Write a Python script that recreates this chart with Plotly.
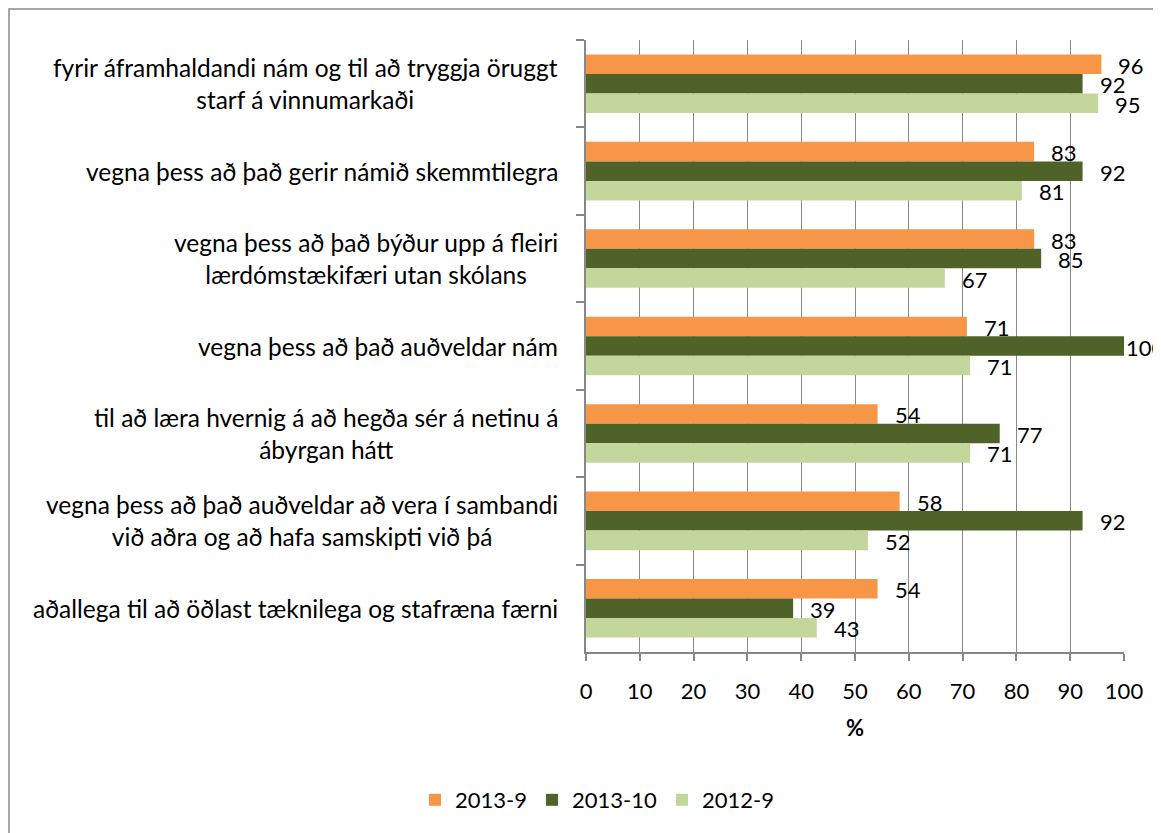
import plotly.graph_objects as go

categories = [
    "fyrir áframhaldandi nám og til að tryggja öruggt<br>starf á vinnumarkaði",
    "vegna þess að það gerir námið skemmtilegra",
    "vegna þess að það býður upp á fleiri<br>lærdómstækifæri utan skólans",
    "vegna þess að það auðveldar nám",
    "til að læra hvernig á að hegða sér á netinu á<br>ábyrgan hátt",
    "vegna þess að það auðveldar að vera í sambandi<br>við aðra og að hafa samskipti við þá",
    "aðallega til að öðlast tæknilega og stafræna færni",
]

series_names = ["2013-9", "2013-10", "2012-9"]
values_2013_9 = [95.8, 83.3, 83.3, 70.8, 54.2, 58.3, 54.2]
values_2013_10 = [92.3, 92.3, 84.6, 100.0, 76.9, 92.3, 38.5]
values_2012_9 = [95.2, 81.0, 66.7, 71.4, 71.4, 52.4, 42.9]
series_values = [values_2013_9, values_2013_10, values_2012_9]
colors = ["#F79646", "#4F6228", "#C3D69B"]

FONT = "Lato"
OFF = 8  # page body margin
W, H = 1161 - OFF, 833 - OFF
PX0, PX1, PY0, PY1 = 586 - OFF, 1124 - OFF, 40 - OFF, 652 - OFF
ML, MR, MT, MB = PX0, W - PX1, PY0, H - PY1
PW, PH = PX1 - PX0, PY1 - PY0
BARGAP = 0.33

fig = go.Figure()
for name, vals, col in zip(series_names, series_values, colors):
    fig.add_trace(go.Bar(
        y=categories, x=vals, name=name, orientation="h",
        marker=dict(color=col, line=dict(width=0)),
    ))

annotations = []
band = PH / len(categories)
barpx = band * (1 - BARGAP) / len(series_names)
for i, vals in enumerate(series_values):
    for cat, v in zip(categories, vals):
        annotations.append(dict(
            x=v, y=cat, xref="x", yref="y", text=f"{v:.0f}" if v != 38.5 else "39",
            showarrow=False, xanchor="left", yanchor="middle",
            xshift=15 if v < 99 else 0, yshift=(1 - i) * barpx - 1,
            font=dict(family=FONT, size=22, color="#000000"),
        ))

for cat in categories:
    annotations.append(dict(
        x=0, y=cat, xref="paper", yref="y", text=cat, showarrow=False,
        xanchor="right", yanchor="middle", align="center", xshift=-26,
        font=dict(family=FONT, size=24.5, color="#000000"),
    ))

fig.update_layout(
    width=W, height=H,
    margin=dict(l=ML, r=MR, t=MT, b=MB),
    paper_bgcolor="white", plot_bgcolor="white",
    barmode="group", bargap=BARGAP, bargroupgap=0,
    font=dict(family=FONT, size=22, color="#000000"),
    showlegend=True,
    legend=dict(orientation="h", x=(597 - OFF - PX0) / PW, xanchor="center",
                y=(PY1 - (800 - OFF)) / PH, yanchor="middle",
                font=dict(family=FONT, size=22), traceorder="normal",
                itemwidth=30),
    annotations=annotations,
    shapes=[dict(type="rect", xref="paper", yref="paper",
                 x0=(9 - OFF - PX0) / PW, x1=(1175 - PX0) / PW,
                 y0=(PY1 - 845) / PH, y1=1 + (PY0 - (9 - OFF)) / PH,
                 line=dict(color="#898989", width=1.5), layer="below")],
)

fig.update_xaxes(
    range=[0, 100], dtick=10, showgrid=True, gridcolor="#878787", gridwidth=1,
    showline=True, linecolor="#878787", linewidth=1.5,
    ticks="outside", ticklen=7, tickcolor="#878787", tickwidth=1.5,
    ticklabelstandoff=12,
    tickfont=dict(family=FONT, size=22),
    title=dict(text="<b>%</b>", font=dict(family=FONT, size=22), standoff=17),
    zeroline=False, fixedrange=True,
)
fig.update_yaxes(
    type="category", autorange="reversed", showticklabels=False,
    showline=True, linecolor="#878787", linewidth=1.5,
    ticks="outside", tickson="boundaries", ticklen=8, tickcolor="#878787", tickwidth=1.5,
    showgrid=False, fixedrange=True,
)

fig.write_html("out.html")
